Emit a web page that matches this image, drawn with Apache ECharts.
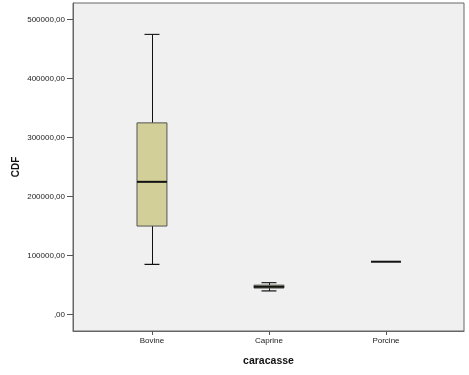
<!DOCTYPE html>
<html>
<head>
<meta charset="utf-8">
<script src="https://cdn.jsdelivr.net/npm/echarts@6/dist/echarts.min.js"></script>
<style>
html,body{margin:0;padding:0;background:#fff;}
#chart{width:469px;height:375px;}
</style>
</head>
<body>
<div id="chart"></div>
<script>
const categories = ['Bovine', 'Caprine', 'Porcine'];
const lowerWhisker = [85000, 40000, 89500];
const q1 = [150000, 44800, 89500];
const median = [225000, 47000, 89500];
const q3 = [325000, 49800, 89500];
const upperWhisker = [475000, 54000, 89500];
const yTicks = [0, 100000, 200000, 300000, 400000, 500000];
const xTicks = [0, 1, 2];

const boxData = categories.map((c, i) => [i, lowerWhisker[i], q1[i], median[i], q3[i], upperWhisker[i]]);

const chart = echarts.init(document.getElementById('chart'), null, {renderer: 'canvas'});
const FONT = 'Liberation Sans, Arial, sans-serif';

function renderItem(params, api) {
  const x = api.value(0);
  const lo = api.value(1), a = api.value(2), m = api.value(3), b = api.value(4), hi = api.value(5);
  const halfBox = 0.128, halfCap = 0.064;
  const pLo = api.coord([x, lo]), pA = api.coord([x, a]), pM = api.coord([x, m]), pB = api.coord([x, b]), pHi = api.coord([x, hi]);
  const left = api.coord([x - halfBox, m])[0], right = api.coord([x + halfBox, m])[0];
  const cl = api.coord([x - halfCap, m])[0], cr = api.coord([x + halfCap, m])[0];
  const cx = Math.round(pM[0]) + 0.5;
  const children = [];
  if (hi - lo > 0) {
    children.push({type: 'line', shape: {x1: cx, y1: pHi[1], x2: cx, y2: pLo[1]}, style: {stroke: '#111', lineWidth: 1}});
    children.push({type: 'line', shape: {x1: cl, y1: pHi[1], x2: cr, y2: pHi[1]}, style: {stroke: '#222', lineWidth: 1.2}});
    children.push({type: 'line', shape: {x1: cl, y1: pLo[1], x2: cr, y2: pLo[1]}, style: {stroke: '#111', lineWidth: 1.2}});
  }
  if (b - a > 0) {
    children.push({type: 'rect', shape: {x: left, y: pB[1], width: right - left, height: pA[1] - pB[1]}, style: {fill: '#d3cf99', stroke: '#555', lineWidth: 1}});
  }
  children.push({type: 'line', shape: {x1: left, y1: pM[1], x2: right, y2: pM[1]}, style: {stroke: '#111', lineWidth: 2}});
  return {type: 'group', children: children};
}

chart.setOption({
  animation: false,
  backgroundColor: '#ffffff',
  grid: {left: 73, right: 5, top: 3, bottom: 44, containLabel: false, outerBoundsMode: 'none', show: true, backgroundColor: '#f0f0f0', borderColor: '#666', borderWidth: 1},
  xAxis: {
    type: 'value', min: -0.675, max: 2.667,
    name: 'caracasse', nameLocation: 'middle', nameGap: 25,
    nameTextStyle: {fontFamily: FONT, fontSize: 10.5, fontWeight: 'bold', color: '#111'},
    axisLine: {show: true, onZero: false, lineStyle: {color: '#666'}},
    axisTick: {show: true, length: 4, lineStyle: {color: '#555'}, customValues: xTicks},
    axisLabel: {customValues: xTicks, formatter: v => categories[Math.round(v)], fontFamily: FONT, fontSize: 8, color: '#222', margin: 6},
    splitLine: {show: false}
  },
  yAxis: {
    type: 'value', min: -28000, max: 528300,
    name: 'CDF', nameLocation: 'middle', nameGap: 52, nameRotate: 90, nameMoveOverlap: false,
    nameTextStyle: {fontFamily: FONT, fontSize: 10, fontWeight: 'bold', color: '#111'},
    axisLine: {show: true, onZero: false, lineStyle: {color: '#666'}},
    axisTick: {show: true, length: 6, lineStyle: {color: '#555'}, customValues: yTicks},
    axisLabel: {customValues: yTicks, formatter: v => (v === 0 ? ',00' : v + ',00'), fontFamily: FONT, fontSize: 8, color: '#222', margin: 8},
    splitLine: {show: false}
  },
  series: [{
    type: 'custom',
    renderItem: renderItem,
    data: boxData,
    encode: {x: 0, y: [1, 2, 3, 4, 5]}
  }]
});
</script>
</body>
</html>
